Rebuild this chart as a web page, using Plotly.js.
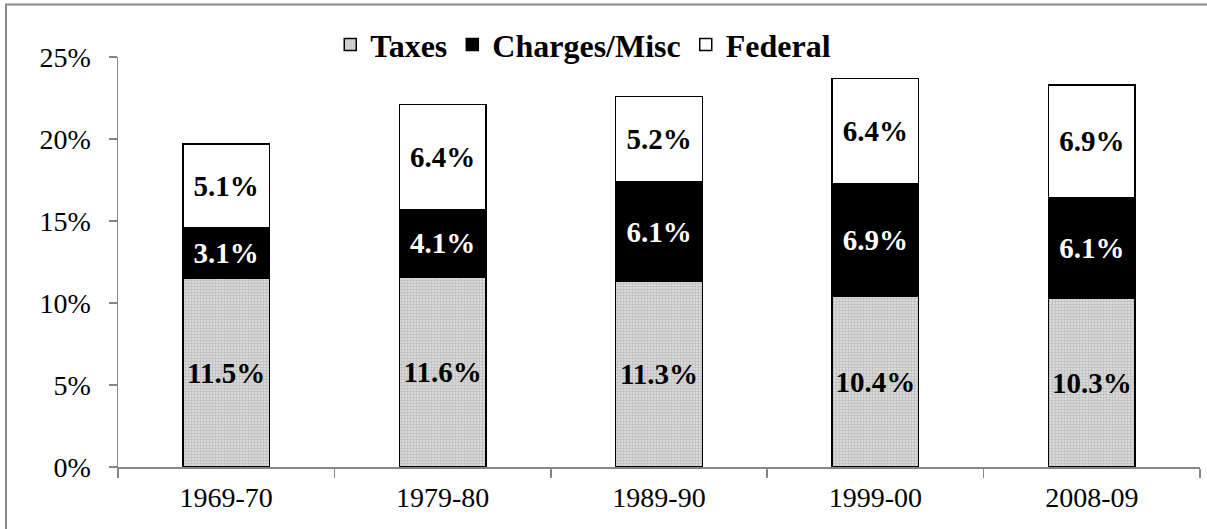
<!DOCTYPE html>
<html>
<head>
<meta charset="utf-8">
<script src="https://cdn.plot.ly/plotly-3.0.1.min.js"></script>
<style>
html,body{margin:0;padding:0;background:#fff;}
#chart{width:1207px;height:529px;}
</style>
</head>
<body>
<div id="chart"></div>
<script>
const categories = ["1969-70", "1979-80", "1989-90", "1999-00", "2008-09"];
const taxes = [11.5, 11.6, 11.3, 10.4, 10.3];
const charges = [3.1, 4.1, 6.1, 6.9, 6.1];
const federal = [5.1, 6.4, 5.2, 6.4, 6.9];
const yTickVals = [0, 5, 10, 15, 20, 25];
const yTickText = ["0%", "5%", "10%", "15%", "20%", "25%"];

const serif = "'Liberation Serif', 'Times New Roman', serif";

function barTrace(name, vals, marker, textColor) {
  return {
    type: "bar",
    name: name,
    x: categories,
    y: vals,
    width: 0.4,
    marker: marker,
    text: vals.map(v => v.toFixed(1) + "%"),
    textposition: "inside",
    insidetextanchor: "middle",
    textangle: 0,
    constraintext: "none",
    textfont: {family: serif, size: 29, color: textColor, weight: "bold"},
    hoverinfo: "skip"
  };
}

const traces = [
  barTrace("Taxes", taxes, {
    color: "#dcdcdc",
    line: {color: "#000", width: 1.5},
    pattern: {shape: ".", fgcolor: "#bdbdbd", bgcolor: "#e2e2e2", size: 3, solidity: 0.5, fillmode: "replace"}
  }, "#000"),
  barTrace("Charges/Misc", charges, {color: "#000", line: {color: "#000", width: 1.5}}, "#fff"),
  barTrace("Federal", federal, {color: "#fff", line: {color: "#000", width: 1.5}}, "#000")
];

const layout = {
  width: 1207,
  height: 529,
  margin: {l: 118, r: 7, t: 57, b: 62},
  paper_bgcolor: "#fff",
  plot_bgcolor: "#fff",
  barmode: "stack",
  showlegend: true,
  uniformtext: {mode: false},
  legend: {
    orientation: "h",
    x: 0.43, xanchor: "center",
    y: 1.03, yanchor: "middle",
    font: {family: serif, size: 32, color: "#000", weight: "bold"},
    itemwidth: 30,
    bgcolor: "rgba(0,0,0,0)",
    traceorder: "normal"
  },
  xaxis: {
    type: "category",
    showline: true,
    linecolor: "#868686",
    linewidth: 1.5,
    ticks: "outside",
    tickson: "boundaries",
    ticklen: 9,
    tickcolor: "#868686",
    tickwidth: 1.5,
    ticklabelstandoff: 5,
    tickfont: {family: serif, size: 28, color: "#000"},
    showgrid: false,
    zeroline: false,
    fixedrange: true
  },
  yaxis: {
    range: [0, 25],
    tickvals: yTickVals,
    ticktext: yTickText,
    showline: true,
    linecolor: "#868686",
    linewidth: 1.5,
    ticks: "outside",
    ticklen: 8,
    tickcolor: "#868686",
    tickwidth: 1.5,
    ticklabelstandoff: 12,
    tickfont: {family: serif, size: 28, color: "#000"},
    showgrid: false,
    zeroline: false,
    fixedrange: true
  },
  shapes: [
    {type: "line", xref: "paper", yref: "paper", x0: -0.1035, x1: -0.1035, y0: 1.13, y1: -0.2, line: {color: "#8a8a8a", width: 2}},
    {type: "line", xref: "paper", yref: "paper", x0: -0.1035, x1: 1.01, y0: 1.128, y1: 1.128, line: {color: "#8a8a8a", width: 2}}
  ]
};

Plotly.newPlot("chart", traces, layout, {displayModeBar: false, staticPlot: true});
</script>
</body>
</html>
